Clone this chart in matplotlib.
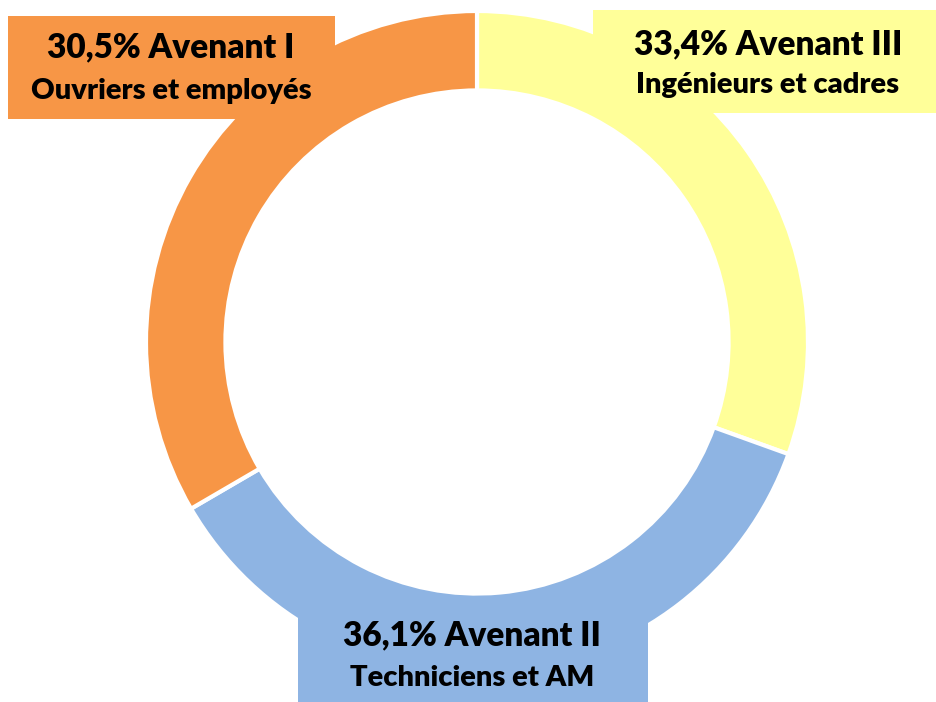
import matplotlib.pyplot as plt
from matplotlib.patches import Rectangle

# slices clockwise from 12 o'clock, as drawn in the reference
shares = [30.5, 36.1, 33.4]
slice_colors = ["#FFFF99", "#8EB4E3", "#F79646"]

# label boxes (text as printed in the reference)
titles = ["33,4% Avenant III", "36,1% Avenant II", "30,5% Avenant I"]
subtitles = ["Ingénieurs et cadres", "Techniciens et AM", "Ouvriers et employés"]

W, H = 937, 702
fig = plt.figure(figsize=(W / 100, H / 100), dpi=100)
ax = fig.add_axes([0, 0, 1, 1])

ax.pie(shares, colors=slice_colors, startangle=90, counterclock=False, radius=1,
       wedgeprops=dict(width=0.24, edgecolor="white", linewidth=3))

# centre of ring at pixel (477, 342), radius 331 px
cx, cy, r = 477, 342, 331
ax.set_xlim(-cx / r, (W - cx) / r)
ax.set_ylim(-(H - cy) / r, cy / r)
ax.set_aspect("auto")
ax.axis("off")


def px(x, y):
    return x / W, 1 - y / H


# box layout in pixels: left, top, right, bottom, title y, subtitle y, text x
boxes = [
    (593, 10, 937, 113, 44, 85, 768),
    (298, 618, 648, 702, 635, 678, 472),
    (8, 16, 335, 119, 47, 91, 171),
]

for (x0, y0, x1, y1, ty, sy, tx), col, t, s in zip(boxes, slice_colors, titles, subtitles):
    fig.add_artist(Rectangle(px(x0, y1), (x1 - x0) / W, (y1 - y0) / H,
                             transform=fig.transFigure, facecolor=col,
                             edgecolor="none", zorder=3))
    fig.text(*px(tx, ty), t, ha="center", va="center", fontsize=24,
             fontweight="heavy", family="Lato", zorder=4)
    fig.text(*px(tx, sy), s, ha="center", va="center", fontsize=21,
             fontweight="heavy", family="Lato", zorder=4)

fig.savefig("out.png", dpi=100)
